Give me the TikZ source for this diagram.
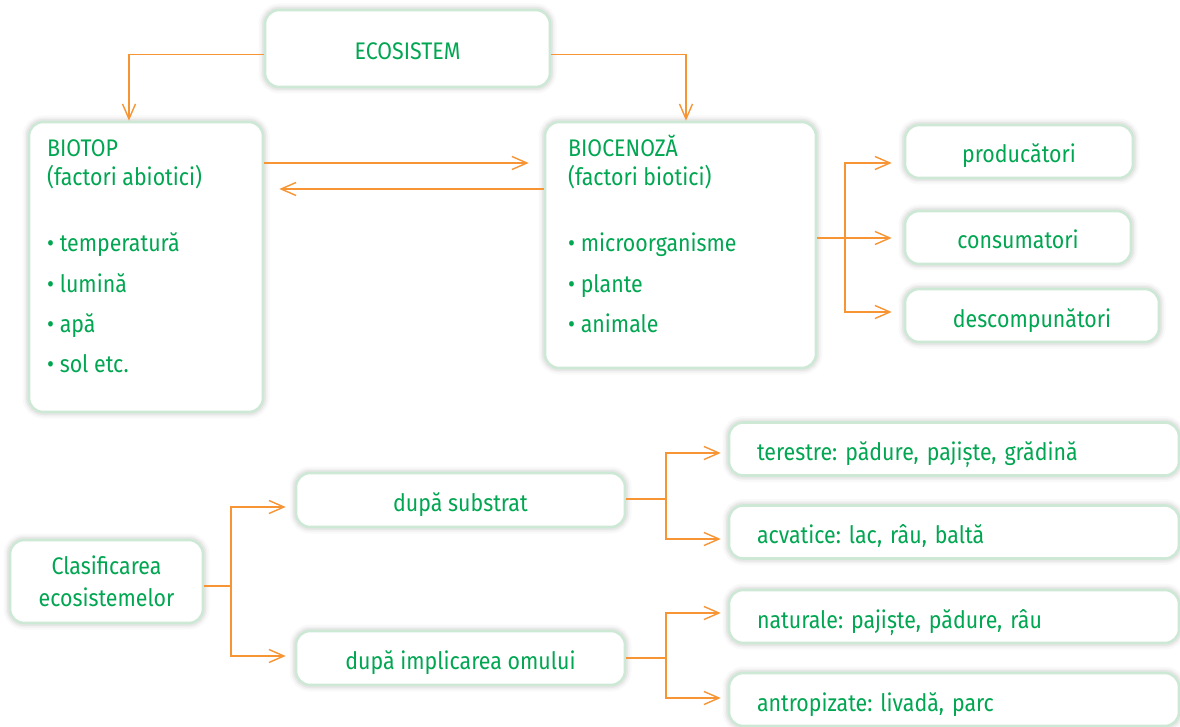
\documentclass[tikz,border=0pt]{standalone}
\usepackage{fontspec}
\setmainfont{Fira Sans}[FakeStretch=0.89]
\usetikzlibrary{arrows.meta}
\definecolor{txtgreen}{RGB}{0,166,81}
\definecolor{boxgreen}{RGB}{205,232,213}
\definecolor{arrorange}{RGB}{247,148,52}
\frenchspacing
\begin{document}
\frenchspacing
\begin{tikzpicture}[x=1pt,y=-1pt,
  halo/.style={preaction={draw=black,opacity=0.025,line width=13pt},
               preaction={draw=black,opacity=0.03,line width=9pt},
               preaction={draw=black,opacity=0.04,line width=6pt}},
  box/.style={halo, draw=boxgreen, line width=2.6pt, rounded corners=14pt, fill=white,
              text=txtgreen, inner sep=0pt, font=\fontsize{24}{32}\selectfont\frenchspacing},
  sbox/.style={box, text height=23pt, text depth=0pt},
  lbox/.style={sbox, align=left, inner xsep=28pt},
  txt/.style={text=txtgreen, inner sep=0pt, anchor=base west, font=\fontsize{24}{30}\selectfont\frenchspacing},
  conn/.style={draw=arrorange, line width=1.4pt},
  arr/.style={conn, -{Straight Barb[length=15pt,width=13pt,line width=1.4pt]}}]
\useasboundingbox[fill=white] (0,0) rectangle (1180,727);

% top part
\node[sbox, minimum width=285pt, minimum height=77pt] (eco) at (407.5,48.5) {ECOSISTEM};
\node[box, minimum width=234pt, minimum height=290pt] (biotop) at (146,267) {};
\node[box, minimum width=271pt, minimum height=246pt] (bioc) at (680.5,245) {};

\node[txt] (bt1) at (47,157) {BIOTOP};
\node[txt] (bt2) at (47,186) {(factori abiotici)};
\node[txt] (bt3) at (47,252) {• temperatură};
\node[txt] (bt4) at (47,292) {• lumină};
\node[txt] (bt5) at (47,332) {• apă};
\node[txt] (bt6) at (47,372) {• sol etc.};

\node[txt] (bc1) at (568,157) {BIOCENOZĂ};
\node[txt] (bc2) at (568,186) {(factori biotici)};
\node[txt] (bc3) at (568,252) {• microorganisme};
\node[txt] (bc4) at (568,292) {• plante};
\node[txt] (bc5) at (568,332) {• animale};

\node[sbox, minimum width=228pt, minimum height=53pt] (prod) at (1019,151.5) {producători};
\node[sbox, minimum width=226pt, minimum height=53pt] (cons) at (1018,237.5) {consumatori};
\node[sbox, minimum width=254pt, minimum height=53pt] (desc) at (1032,315.5) {descompunători};

% bottom part
\node[box, minimum width=193pt, minimum height=83pt, align=center] (clas) at (106.5,581.5) {Clasificarea\\ecosistemelor};
\node[sbox, minimum width=329pt, minimum height=54pt] (sub) at (460.5,500) {după substrat};
\node[sbox, minimum width=329pt, minimum height=54pt] (impl) at (460.5,658) {după implicarea omului};

\node[lbox, text width=394pt, minimum height=53pt] (ter) at (954,449) {terestre: pădure, pajiște, grădină};
\node[lbox, text width=394pt, minimum height=53pt] (acv) at (954,532) {acvatice: lac, râu, baltă};
\node[lbox, text width=394pt, minimum height=53pt] (nat) at (954,616.5) {naturale: pajiște, pădure, râu};
\node[lbox, text width=394pt, minimum height=53pt] (ant) at (954,699.5) {antropizate: livadă, parc};

% connectors
\draw[arr] (eco.west |- 0,54.5) -| ([xshift=-17pt]biotop.north);
\draw[arr] (eco.east |- 0,54.5) -| ([xshift=5.5pt]bioc.north);
\draw[arr, shorten >=15pt] (biotop.east |- 0,163) -- (bioc.west |- 0,163);
\draw[arr, shorten >=15pt] (bioc.west |- 0,189) -- (biotop.east |- 0,189);

\coordinate (jb) at (845,238);
\draw[conn] (bioc.east |- jb) -- (jb);
\draw[arr, shorten >=12pt] (jb) |- (prod.west |- 0,163);
\draw[arr, shorten >=12pt] (jb) -- (cons.west |- jb);
\draw[arr, shorten >=12pt] (jb) |- (desc.west |- 0,312);

\coordinate (jc) at (231,586);
\draw[conn] (clas.east |- jc) -- (jc);
\draw[arr, shorten >=9pt] (jc) |- (sub.west |- 0,507);
\draw[arr, shorten >=9pt] (jc) |- (impl.west |- 0,656);

\coordinate (js) at (666,499);
\draw[conn] (sub.east |- js) -- (js);
\draw[arr, shorten >=7pt] (js) |- (ter.west |- 0,453);
\draw[arr, shorten >=7pt] (js) |- (acv.west |- 0,539);

\coordinate (ji) at (666,658);
\draw[conn] (impl.east |- ji) -- (ji);
\draw[arr, shorten >=7pt] (ji) |- (nat.west |- 0,613);
\draw[arr, shorten >=7pt] (ji) |- (ant.west |- 0,698);
\end{tikzpicture}
\end{document}
